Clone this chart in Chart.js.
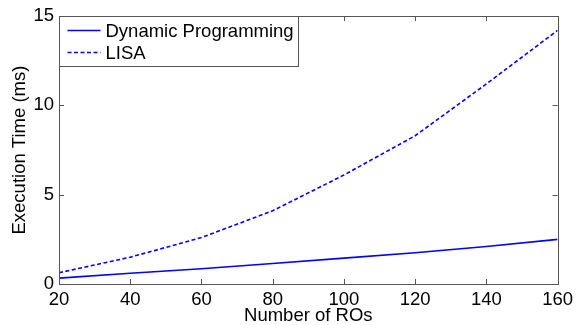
<!DOCTYPE html>
<html lang="en">
<head>
    <meta charset="UTF-8">
    <title>Execution Time</title>
    <script src="https://cdn.jsdelivr.net/npm/chart.js"></script>
    <style>
        body { margin: 0; background: #fff; }
        #wrap { width: 578px; height: 325px; }
    </style>
</head>
<body>
<div id="wrap"><canvas id="timeChart"></canvas></div>

<script>
    const numROs = [20, 40, 60, 80, 100, 120, 140, 160];
    const dynamicProgramming = [0.33, 0.6, 0.85, 1.15, 1.45, 1.75, 2.1, 2.5];
    const lisa = [0.63, 1.5, 2.6, 4.1, 6.1, 8.3, 11.2, 14.2];
    const seriesNames = ['Dynamic Programming', 'LISA'];

    const FONT = 'Liberation Sans, Arial, sans-serif';
    const FSIZE = 18.5;
    const BOX = '#555555';

    function toPoints(ys) {
        return numROs.map((x, i) => ({ x: x, y: ys[i] }));
    }

    // matlab style box with inward ticks, plus the legend in the corner
    const boxPlugin = {
        id: 'matlabBox',
        afterDatasetsDraw(chart) {
            const { ctx, chartArea: a, scales } = chart;
            ctx.save();
            ctx.strokeStyle = BOX;
            ctx.lineWidth = 1;
            ctx.beginPath();
            scales.x.ticks.forEach(t => {
                const px = Math.round(scales.x.getPixelForValue(t.value)) + 0.5;
                ctx.moveTo(px, a.bottom); ctx.lineTo(px, a.bottom - 5);
                ctx.moveTo(px, a.top); ctx.lineTo(px, a.top + 5);
            });
            scales.y.ticks.forEach(t => {
                const py = Math.round(scales.y.getPixelForValue(t.value)) + 0.5;
                ctx.moveTo(a.left, py); ctx.lineTo(a.left + 5, py);
                ctx.moveTo(a.right, py); ctx.lineTo(a.right - 5, py);
            });
            ctx.stroke();
            ctx.strokeRect(Math.round(a.left) + 0.5, Math.round(a.top) + 0.5,
                Math.round(a.right - a.left), Math.round(a.bottom - a.top));

            // legend
            const lx = Math.round(a.left) + 0.5, ly = Math.round(a.top) + 0.5;
            ctx.fillStyle = '#fff';
            ctx.fillRect(lx, ly, 239, 50);
            ctx.strokeRect(lx, ly, 239, 50);
            ctx.font = FSIZE + 'px ' + FONT;
            ctx.textBaseline = 'middle';
            chart.data.datasets.forEach((ds, i) => {
                const y = ly + 14 + i * 22;
                ctx.strokeStyle = ds.borderColor;
                ctx.lineWidth = 1.4;
                ctx.setLineDash(ds.borderDash || []);
                ctx.beginPath();
                ctx.moveTo(lx + 8, y); ctx.lineTo(lx + 41, y);
                ctx.stroke();
                ctx.setLineDash([]);
                ctx.fillStyle = '#000';
                ctx.fillText(seriesNames[i], lx + 46, y + 1);
            });
            ctx.restore();
        }
    };

    const ctx = document.getElementById('timeChart').getContext('2d');

    new Chart(ctx, {
        type: 'line',
        data: {
            datasets: [{
                label: seriesNames[0],
                data: toPoints(dynamicProgramming),
                borderColor: '#0000ff',
                borderWidth: 1.6,
                pointRadius: 0,
                tension: 0
            }, {
                label: seriesNames[1],
                data: toPoints(lisa),
                borderColor: '#0000ff',
                borderWidth: 1.6,
                borderDash: [4, 2.5],
                pointRadius: 0,
                tension: 0
            }]
        },
        options: {
            responsive: true,
            maintainAspectRatio: false,
            animation: false,
            layout: { padding: { left: 0, right: 20, top: 16, bottom: 0 } },
            plugins: {
                legend: { display: false },
                tooltip: { enabled: false }
            },
            scales: {
                x: {
                    type: 'linear',
                    min: 20,
                    max: 160,
                    grid: { display: false, drawTicks: false },
                    border: { display: false },
                    ticks: { stepSize: 20, color: '#000', padding: 5, font: { family: FONT, size: FSIZE } },
                    title: { display: true, text: 'Number of ROs', color: '#000',
                        padding: { top: 0, bottom: -2 }, font: { family: FONT, size: FSIZE } },
                    afterFit(scale) { scale.height = 41; }
                },
                y: {
                    min: 0,
                    max: 15,
                    grid: { display: false, drawTicks: false },
                    border: { display: false },
                    ticks: { stepSize: 5, color: '#000', padding: 5, font: { family: FONT, size: FSIZE } },
                    title: { display: true, text: 'Execution Time (ms)', color: '#000',
                        padding: { top: 9, bottom: 0 }, font: { family: FONT, size: FSIZE } },
                    afterFit(scale) { scale.width = 59; }
                }
            }
        },
        plugins: [boxPlugin]
    });
</script>
</body>
</html>
